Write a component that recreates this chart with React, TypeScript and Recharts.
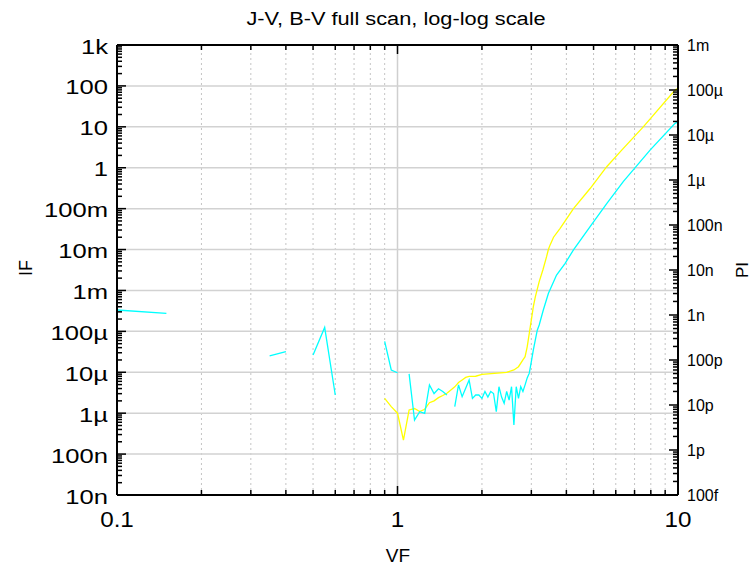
import React from 'react';
import { LineChart, Line, XAxis, YAxis, ReferenceLine } from 'recharts';

const FONT = '"Liberation Sans", Arial, Helvetica, sans-serif';

// chart frame (plot box sits at left 117, top 45, right 678, bottom 495)
const W = 755;
const H = 566;
const PLOT_H = 450;

// forward current IF (left axis), yellow
const ifVoltage = [0.9, 0.95, 1.0, 1.05, 1.1, 1.15, 1.2, 1.25, 1.3, 1.35, 1.4, 1.45, 1.5, 1.55, 1.6, 1.65, 1.7, 1.75, 1.8, 1.9, 2.0, 2.45, 2.6, 2.7, 2.8, 2.85, 2.9, 2.95, 3.0, 3.05, 3.1, 3.2, 3.3, 3.4, 3.45, 3.5, 3.6, 3.8, 4.24, 4.86, 5.57, 6.3, 7.52, 9.76, 10];
const ifCurrent = [2.3e-6, 1.45e-6, 1.0e-6, 2.2e-7, 1.2e-6, 1.3e-6, 1.1e-6, 1.25e-6, 1.8e-6, 2.0e-6, 2.4e-6, 2.7e-6, 3.06e-6, 3.7e-6, 4.4e-6, 5.6e-6, 6.5e-6, 7.5e-6, 7.9e-6, 8.0e-6, 8.9e-6, 1.0e-5, 1.14e-5, 1.37e-5, 2.0e-5, 2.4e-5, 4.2e-5, 9e-5, 1.9e-4, 4e-4, 7e-4, 1.64e-3, 3.2e-3, 6.7e-3, 1.0e-2, 1.3e-2, 2.0e-2, 3.3e-2, 0.1, 0.31, 1.06, 2.7, 10, 79, 88];

// photocurrent PI (right axis), cyan; null = no positive reading
const piVoltage = [0.1, 0.15, 0.2, 0.35, 0.4, 0.45, 0.5, 0.55, 0.6, 0.65, 0.9, 0.95, 1.0, 1.05, 1.1, 1.15, 1.2, 1.25, 1.3, 1.35, 1.4, 1.45, 1.5, 1.55, 1.6, 1.65, 1.7, 1.75, 1.8, 1.85, 1.9, 1.95, 2.0, 2.05, 2.1, 2.15, 2.2, 2.25, 2.3, 2.35, 2.4, 2.45, 2.5, 2.55, 2.6, 2.65, 2.7, 2.75, 2.8, 2.85, 2.9, 2.95, 3.0, 3.05, 3.1, 3.15, 3.2, 3.31, 3.45, 3.69, 3.96, 4.24, 4.86, 5.57, 6.38, 7.95, 9.76, 10];
const piCurrent = [1.29e-9, 1.09e-9, null, 1.23e-10, 1.53e-10, null, 1.29e-10, 5.3e-10, 1.67e-11, null, 2.6e-10, 6.0e-11, 5.2e-11, null, 4.9e-11, 4.6e-12, 7.1e-12, 6.5e-12, 2.8e-11, 1.8e-11, 2.3e-11, 2.0e-11, 1.67e-11, null, 9.2e-12, 2.8e-11, 1.53e-11, 2.35e-11, 3.6e-11, 1.4e-11, 1.67e-11, 1.67e-11, 1.4e-11, 2.0e-11, 1.5e-11, 2.0e-11, 1.8e-11, 7.1e-12, 2.55e-11, 1.5e-11, 1.09e-11, 2.0e-11, 1.29e-11, 2.55e-11, 3.6e-12, 2.55e-11, 1.4e-11, 2.55e-11, 2.0e-11, 2.8e-11, 4.0e-11, 5.1e-11, 9.2e-11, 1.67e-10, 2.8e-10, 4.6e-10, 6.0e-10, 1.29e-9, 3.0e-9, 7.7e-9, 1.41e-8, 2.8e-8, 9.2e-8, 3.0e-7, 9.2e-7, 4.6e-6, 1.82e-5, 1.95e-5];

// ticks
const xMajorTicks = [0.1, 1, 10];
const xTickLabels = ['0.1', '1', '10'];
const leftMajorTicks = [1e-8, 1e-7, 1e-6, 1e-5, 1e-4, 1e-3, 1e-2, 1e-1, 1, 10, 100, 1000];
const leftTickLabels = ['10n', '100n', '1µ', '10µ', '100µ', '1m', '10m', '100m', '1', '10', '100', '1k'];
const rightMajorTicks = [1e-13, 1e-12, 1e-11, 1e-10, 1e-9, 1e-8, 1e-7, 1e-6, 1e-5, 1e-4, 1e-3];
const rightTickLabels = ['100f', '1p', '10p', '100p', '1n', '10n', '100n', '1µ', '10µ', '100µ', '1m'];

const withMinors = (majors: number[]) => {
  const out: number[] = [];
  majors.forEach((m, i) => {
    out.push(m);
    if (i < majors.length - 1) {
      for (let k = 2; k <= 9; k++) out.push(Number((k * m).toPrecision(3)));
    }
  });
  return out;
};

const xTicks = withMinors(xMajorTicks);
const leftTicks = withMinors(leftMajorTicks);
const rightTicks = withMinors(rightMajorTicks);
const xMinorGrid = xTicks.filter((v) => xMajorTicks.indexOf(v) < 0);
const leftGrid = leftMajorTicks.slice(1, -1);

const ifData = ifVoltage.map((v, i) => ({ v, i: ifCurrent[i] }));
const piData = piVoltage.map((v, i) => ({ v, p: piCurrent[i] }));

const majorIndex = (majors: number[], v: number) =>
  majors.findIndex((m) => Math.abs(m - v) / m < 1e-6);

function LeftTick(props: any) {
  const { x, y, payload } = props;
  const idx = majorIndex(leftMajorTicks, payload.value);
  const major = idx >= 0;
  return (
    <g>
      <line x1={x} x2={x + (major ? 9 : 5)} y1={y} y2={y} stroke="#000" strokeWidth={1.5} />
      {major && (
        <text
          transform={`translate(${x - 9},${y + 8.5}) scale(1.22,1)`}
          textAnchor="end"
          fontSize={21}
          fontFamily={FONT}
          fill="#000"
        >
          {leftTickLabels[idx]}
        </text>
      )}
    </g>
  );
}

function RightTick(props: any) {
  const { x, y, payload } = props;
  const idx = majorIndex(rightMajorTicks, payload.value);
  const major = idx >= 0;
  return (
    <g>
      <line x1={x} x2={x - (major ? 9 : 5)} y1={y} y2={y} stroke="#000" strokeWidth={1.5} />
      {major && (
        <text x={x + 9} y={y + 6} textAnchor="start" fontSize={16} fontFamily={FONT} fill="#000">
          {rightTickLabels[idx]}
        </text>
      )}
    </g>
  );
}

function BottomTick(props: any) {
  const { x, y, payload } = props;
  const idx = majorIndex(xMajorTicks, payload.value);
  const major = idx >= 0;
  const len = major ? 9 : 5;
  return (
    <g>
      <line x1={x} x2={x} y1={y} y2={y - len} stroke="#000" strokeWidth={1.5} />
      <line x1={x} x2={x} y1={y - PLOT_H} y2={y - PLOT_H + len} stroke="#000" strokeWidth={1.5} />
      {major && (
        <text
          transform={`translate(${x},${y + 32}) scale(1.1,1)`}
          textAnchor="middle"
          fontSize={22}
          fontFamily={FONT}
          fill="#000"
        >
          {xTickLabels[idx]}
        </text>
      )}
    </g>
  );
}

export default function App() {
  return (
    <div style={{ position: 'absolute', left: 0, top: 0, width: W, height: H, background: '#fff' }}>
      <LineChart width={W} height={H} margin={{ top: 45, right: 7, left: 7, bottom: 11 }}>
        <XAxis
          dataKey="v"
          type="number"
          scale="log"
          domain={[0.1, 10]}
          allowDataOverflow
          ticks={xTicks}
          interval={0}
          tickSize={0}
          tickMargin={0}
          tick={(p: any) => <BottomTick {...p} />}
          axisLine={{ stroke: '#000', strokeWidth: 2 }}
          height={60}
        />
        <YAxis
          yAxisId="left"
          orientation="left"
          type="number"
          scale="log"
          domain={[1e-8, 1e3]}
          allowDataOverflow
          ticks={leftTicks}
          interval={0}
          tickSize={0}
          tickMargin={0}
          tick={(p: any) => <LeftTick {...p} />}
          axisLine={{ stroke: '#000', strokeWidth: 2 }}
          width={110}
        />
        <YAxis
          yAxisId="right"
          orientation="right"
          type="number"
          scale="log"
          domain={[1e-13, 1e-3]}
          allowDataOverflow
          ticks={rightTicks}
          interval={0}
          tickSize={0}
          tickMargin={0}
          tick={(p: any) => <RightTick {...p} />}
          axisLine={{ stroke: '#000', strokeWidth: 2 }}
          width={70}
        />

        {/* grid */}
        {xMinorGrid.map((v) => (
          <ReferenceLine key={'gx' + v} x={v} yAxisId="left" stroke="#c4c4c4" strokeWidth={1} strokeDasharray="2 3" />
        ))}
        <ReferenceLine x={1} yAxisId="left" stroke="#cfcfcf" strokeWidth={1.5} />
        {leftGrid.map((v) => (
          <ReferenceLine key={'gy' + v} y={v} yAxisId="left" stroke="#d2d2d2" strokeWidth={1.5} />
        ))}
        <ReferenceLine y={1000} yAxisId="left" stroke="#000" strokeWidth={2} />

        <Line
          data={ifData}
          yAxisId="left"
          dataKey="i"
          type="linear"
          stroke="#ffff00"
          strokeWidth={1.3}
          dot={false}
          isAnimationActive={false}
        />
        <Line
          data={piData}
          yAxisId="right"
          dataKey="p"
          type="linear"
          stroke="#00ffff"
          strokeWidth={1.3}
          dot={false}
          connectNulls={false}
          isAnimationActive={false}
        />
      </LineChart>

      <svg width={W} height={H} style={{ position: 'absolute', left: 0, top: 0, pointerEvents: 'none' }}>
        <text transform="translate(396,25) scale(1.21,1)" textAnchor="middle" fontSize={18} fontFamily={FONT} fill="#000">
          J-V, B-V full scan, log-log scale
        </text>
        <text transform="translate(398,562)" textAnchor="middle" fontSize={19} fontFamily={FONT} fill="#000">
          VF
        </text>
        <text transform="translate(32,268) rotate(-90)" textAnchor="middle" fontSize={18} fontFamily={FONT} fill="#000">
          IF
        </text>
        <text transform="translate(748,270) rotate(-90)" textAnchor="middle" fontSize={17} fontFamily={FONT} fill="#000">
          PI
        </text>
      </svg>
    </div>
  );
}
